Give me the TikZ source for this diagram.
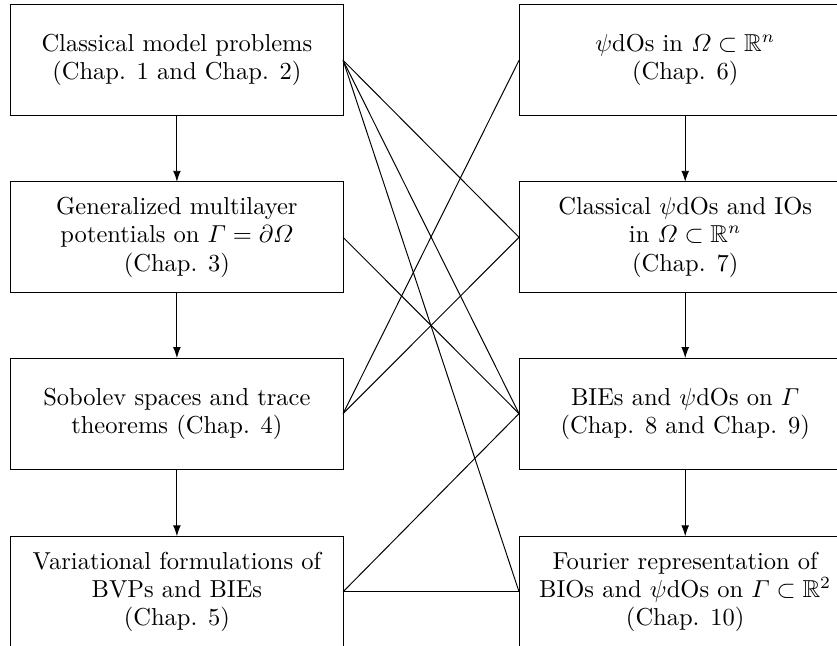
\documentclass[tikz,border=0pt]{standalone}
\usepackage{amsmath,amssymb}
\usetikzlibrary{arrows.meta}
\begin{document}
\begin{tikzpicture}[x=0.408pt,y=-0.408pt,
  chapbox/.style={draw,line width=0.4pt,minimum width=135.6pt,minimum height=45.3pt,
    inner sep=0pt,outer sep=0pt,align=center,font=\fontsize{10}{11.5}\selectfont},
  flow/.style={line width=0.4pt,-{Latex[length=4.5pt,width=3.2pt]}},
  link/.style={line width=0.4pt}]
\useasboundingbox (0,0) rectangle (837,645);
\clip (0,0) rectangle (837,645);
\node[chapbox] (l1) at (176.9,60.3) {Classical model problems\\(Chap. 1 and Chap. 2)};
\node[chapbox] (l2) at (176.9,237.3) {Generalized multilayer\\potentials on $\varGamma=\partial\varOmega$\\(Chap. 3)};
\node[chapbox] (l3) at (176.9,413.6) {Sobolev spaces and trace\\theorems (Chap. 4)};
\node[chapbox] (l4) at (176.9,591.8) {Variational formulations of\\BVPs and BIEs\\(Chap. 5)};
\node[chapbox] (r1) at (685.2,60.3) {$\psi$dOs in $\varOmega\subset\mathbb{R}^n$\\(Chap. 6)};
\node[chapbox] (r2) at (685.2,237.3) {Classical $\psi$dOs and IOs\\in $\varOmega\subset\mathbb{R}^n$\\(Chap. 7)};
\node[chapbox] (r3) at (685.2,413.6) {BIEs and $\psi$dOs on $\varGamma$\\(Chap. 8 and Chap. 9)};
\node[chapbox] (r4) at (685.2,591.8) {Fourier representation of\\BIOs and $\psi$dOs on $\varGamma\subset\mathbb{R}^2$\\(Chap. 10)};
\draw[flow] (l1) -- (l2);
\draw[flow] (l2) -- (l3);
\draw[flow] (l3) -- (l4);
\draw[flow] (r1) -- (r2);
\draw[flow] (r2) -- (r3);
\draw[flow] (r3) -- (r4);
\draw[link] (l1.east) -- (r2.west);
\draw[link] (l1.east) -- (r3.west);
\draw[link] (l1.east) -- (r4.west);
\draw[link] (l2.east) -- (r3.west);
\draw[link] (l3.east) -- (r1.west);
\draw[link] (l3.east) -- (r2.west);
\draw[link] (l4.east) -- (r3.west);
\draw[link] (l4.east) -- (r4.west);
\end{tikzpicture}
\end{document}
